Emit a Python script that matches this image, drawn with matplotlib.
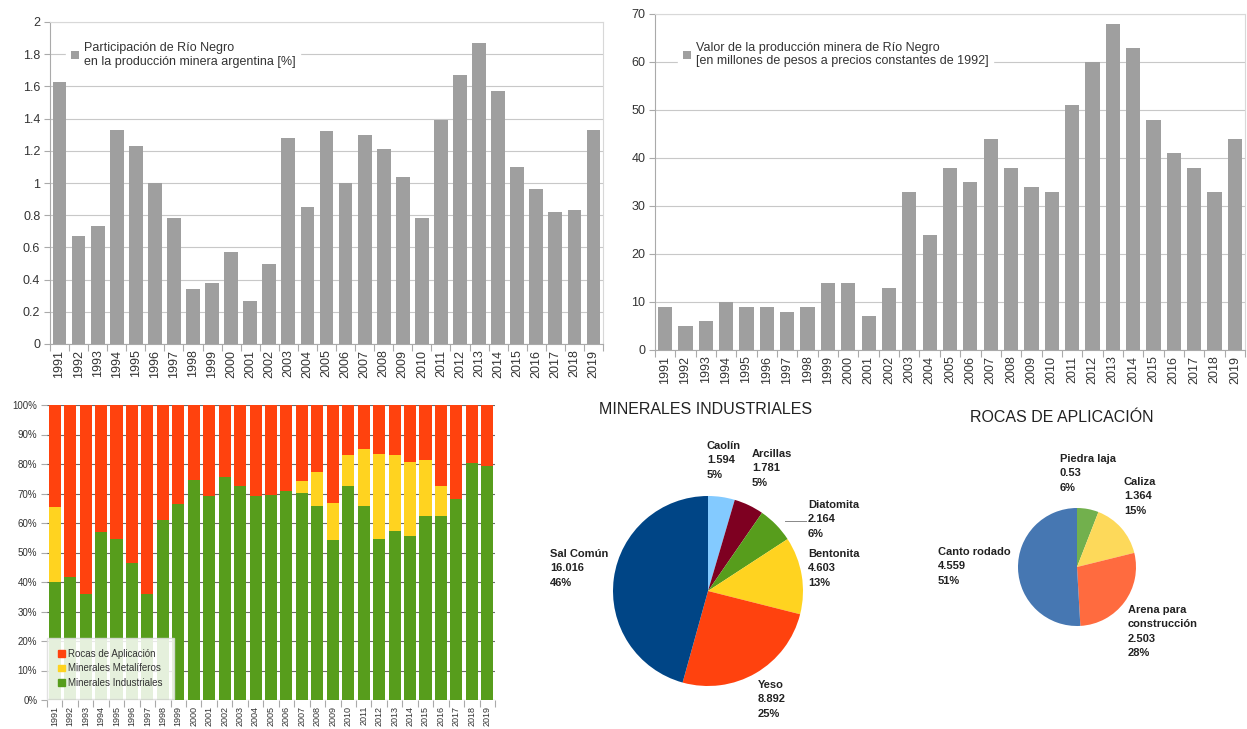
import matplotlib
matplotlib.use("Agg")
import matplotlib.pyplot as plt
from matplotlib.patches import Patch
import numpy as np

plt.rcParams['font.family'] = ['Liberation Sans', 'DejaVu Sans']

# ---- data -------------------------------------------------------------
years = [str(y) for y in range(1991, 2020)]

participacion = [1.63, 0.67, 0.73, 1.33, 1.23, 1.00, 0.78, 0.34, 0.38, 0.57,
                 0.27, 0.50, 1.28, 0.85, 1.32, 1.00, 1.30, 1.21, 1.04, 0.78,
                 1.39, 1.67, 1.87, 1.57, 1.10, 0.96, 0.82, 0.83, 1.33]

valor_produccion = [9, 5, 6, 10, 9, 9, 8, 9, 14, 14,
                    7, 13, 33, 24, 38, 35, 44, 38, 34, 33,
                    51, 60, 68, 63, 48, 41, 38, 33, 44]

pct_industriales = [40.1, 41.6, 35.9, 56.9, 54.7, 46.4, 35.9, 61.1, 66.6, 74.5,
                    69.1, 75.6, 72.7, 69.1, 69.5, 70.8, 70.2, 65.7, 54.1, 72.7,
                    65.7, 54.5, 57.4, 55.7, 62.5, 62.5, 68.2, 80.2, 79.3]
pct_metaliferos = [25.4, 0, 0, 0, 0, 0, 0, 0, 0, 0,
                   0, 0, 0, 0, 0, 0, 4.0, 11.7, 12.7, 10.3,
                   19.5, 29.0, 25.6, 25.0, 18.8, 10.2, 0, 0, 0]

ind_names = ['Caolín', 'Arcillas', 'Diatomita', 'Bentonita', 'Yeso', 'Sal Común']
ind_values = [1.594, 1.781, 2.164, 4.603, 8.892, 16.016]

rocas_names = ['Piedra laja', 'Caliza', 'Arena para\nconstrucción', 'Canto rodado']
rocas_values = [0.53, 1.364, 2.503, 4.559]

# ---- styling ----------------------------------------------------------
W, H = 1247, 729
GRAY_BAR = '#9f9f9f'
GRID = '#c8c8c8'
TXT = '#333333'
C_RED, C_YEL, C_GRN = '#ff420e', '#ffd320', '#579d1c'
ind_colors = ['#83caff', '#7e0021', '#579d1c', '#ffd320', '#ff420e', '#004586']
rocas_colors = ['#72b04d', '#fdd95a', '#ff6b3f', '#4677b2']

fig = plt.figure(figsize=(W / 100, H / 100), dpi=100)
fig.patch.set_facecolor('white')


def px_axes(left, top, right, bottom):
    return fig.add_axes([left / W, 1 - bottom / H, (right - left) / W, (bottom - top) / H])


def style_bar_axes(ax, n, fs):
    x = np.arange(n)
    ax.set_xlim(-0.5, n - 0.5)
    ax.set_xticks(x)
    ax.set_xticklabels(years, rotation=90, fontsize=fs, color=TXT)
    ax.tick_params(axis='x', which='major', length=0, pad=4)
    ax.set_xticks(np.arange(n + 1) - 0.5, minor=True)
    ax.tick_params(axis='x', which='minor', length=5, color='#aaaaaa', width=0.8)
    ax.tick_params(axis='y', length=4, color='#aaaaaa', labelsize=fs, labelcolor=TXT, pad=3)
    for s in ax.spines.values():
        s.set_color('#d8d8d8')
        s.set_linewidth(0.8)
    ax.spines['bottom'].set_color('#aaaaaa')
    ax.spines['left'].set_color('#aaaaaa')
    ax.set_axisbelow(True)


n = len(years)
x = np.arange(n)

# ---- top-left: share of national mining output -------------------------
ax1 = px_axes(50, 22, 603, 344)
ax1.bar(x, participacion, width=0.72, color=GRAY_BAR, label='Participación de Río Negro\nen la producción minera argentina [%]')
ax1.set_ylim(0, 2)
yt = np.arange(0, 2.01, 0.2)
ax1.set_yticks(yt)
ax1.set_yticklabels([f"{v:g}" for v in np.round(yt, 1)])
ax1.grid(axis='y', color=GRID, linewidth=0.8)
style_bar_axes(ax1, n, 9)
leg1 = ax1.legend(loc='upper left', bbox_to_anchor=(0.025, 0.96), fontsize=9,
                  handlelength=0.6, handleheight=0.6, handletextpad=0.4,
                  frameon=True, facecolor='white', edgecolor='white', framealpha=1,
                  borderaxespad=0.2)
for t in leg1.get_texts():
    t.set_color(TXT)

# ---- top-right: production value ---------------------------------------
ax2 = px_axes(655, 14, 1245, 350)
ax2.bar(x, valor_produccion, width=0.7, color=GRAY_BAR,
        label='Valor de la producción minera de Río Negro\n[en millones de pesos a precios constantes de 1992]')
ax2.set_ylim(0, 70)
ax2.set_yticks(np.arange(0, 71, 10))
ax2.grid(axis='y', color=GRID, linewidth=0.8)
style_bar_axes(ax2, n, 9)
leg2 = ax2.legend(loc='upper left', bbox_to_anchor=(0.035, 0.94), fontsize=9,
                  handlelength=0.6, handleheight=0.6, handletextpad=0.4,
                  frameon=True, facecolor='white', edgecolor='white', framealpha=1,
                  borderaxespad=0.2)
for t in leg2.get_texts():
    t.set_color(TXT)

# ---- bottom-left: composition by mineral group --------------------------
ax3 = px_axes(47, 405, 495, 700)
ind = np.array(pct_industriales)
met = np.array(pct_metaliferos)
roc = 100 - ind - met
bw = 0.78
ax3.bar(x, ind, width=bw, color=C_GRN, label='Minerales Industriales', zorder=2)
ax3.bar(x, met, width=bw, bottom=ind, color=C_YEL, label='Minerales Metalíferos', zorder=2)
ax3.bar(x, roc, width=bw, bottom=ind + met, color=C_RED, label='Rocas de Aplicación', zorder=2)
ax3.set_ylim(0, 100)
ax3.set_yticks(np.arange(0, 101, 10))
ax3.set_yticklabels([f"{v}%" for v in range(0, 101, 10)])
ax3.grid(axis='y', color='#6a6a6a', linewidth=0.8, zorder=0)
style_bar_axes(ax3, n, 6.5)
ax3.tick_params(axis='y', labelsize=7)
for s in ax3.spines.values():
    s.set_visible(False)
handles = [Patch(color=C_RED), Patch(color=C_YEL), Patch(color=C_GRN)]
leg3 = ax3.legend(handles, ['Rocas de Aplicación', 'Minerales Metalíferos', 'Minerales Industriales'],
                  loc='lower left', bbox_to_anchor=(0.0, 0.005), fontsize=7,
                  handlelength=0.7, handleheight=0.7, handletextpad=0.4,
                  frameon=True, facecolor='white', edgecolor='#dddddd', framealpha=0.85,
                  borderaxespad=0.3, labelspacing=0.45, borderpad=0.8)
leg3.get_frame().set_boxstyle('square')
for t in leg3.get_texts():
    t.set_color(TXT)


def fmt_val(v):
    return f"{v:.3f}".rstrip('0').rstrip('.')


def pie_panel(cx, cy, r, names, values, colors, title, title_xy, label_xy):
    ax = px_axes(cx - r, cy - r, cx + r, cy + r)
    ax.pie(values, colors=colors, startangle=90, counterclock=False, radius=1,
           wedgeprops=dict(linewidth=0))
    ax.set_xlim(-1, 1)
    ax.set_ylim(-1, 1)
    ax.set_aspect('equal')
    ax.axis('off')
    fig.text(title_xy[0] / W, 1 - title_xy[1] / H, title, ha='center', va='center',
             fontsize=11.5, color='#222222')
    total = sum(values)
    for name, v, (lx, ly) in zip(names, values, label_xy):
        txt = f"{name}\n{fmt_val(v)}\n{round(v / total * 100)}%"
        fig.text(lx / W, 1 - ly / H, txt, ha='left', va='top', fontsize=8,
                 fontweight='bold', color='#222222', linespacing=1.55)
    return ax


pie_panel(708, 591, 95, ind_names, ind_values, ind_colors,
          'MINERALES INDUSTRIALES', (706, 410),
          [(707, 441), (752, 449), (808, 500), (808, 549), (758, 680), (550, 549)])
# leader line for Diatomita
fig.add_artist(plt.Line2D([785 / W, 806 / W], [1 - 521 / H, 1 - 521 / H], color='#888888', linewidth=0.7))

pie_panel(1077, 567, 59, rocas_names, rocas_values, rocas_colors,
          'ROCAS DE APLICACIÓN', (1062, 418),
          [(1060, 454), (1124, 477), (1128, 605), (938, 547)])

fig.savefig('out.png', dpi=100, facecolor='white')
